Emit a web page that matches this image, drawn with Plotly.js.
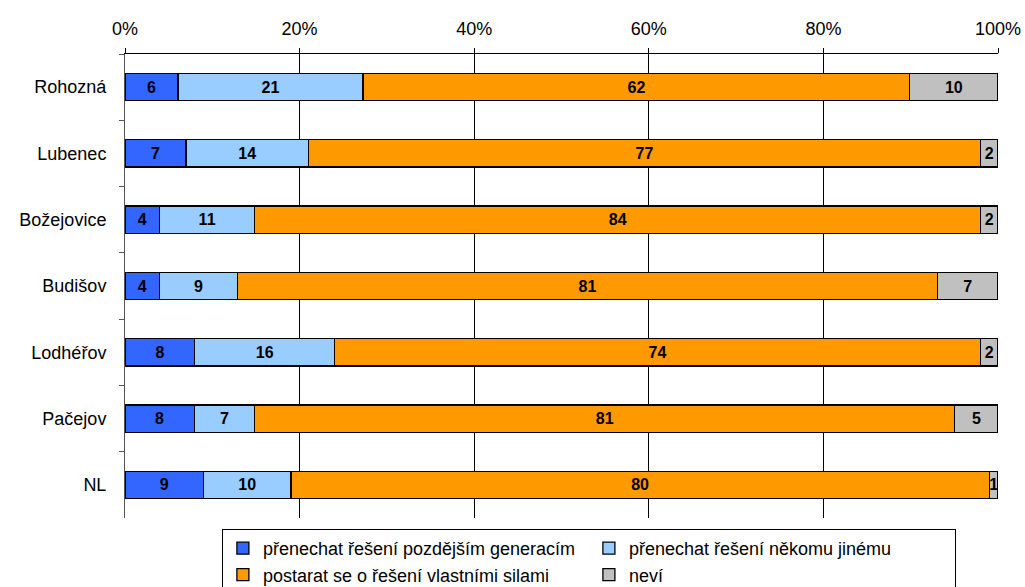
<!DOCTYPE html>
<html>
<head>
<meta charset="utf-8">
<script src="https://cdn.plot.ly/plotly-3.0.1.min.js"></script>
<style>
  body { margin: 0; background: #fff; }
  #plot { width: 1025px; height: 587px; }
</style>
</head>
<body>
<div id="plot"></div>
<script>
// obce (shora dolu)
var places = ["Rohozná", "Lubenec", "Božejovice", "Budišov", "Lodhéřov", "Pačejov", "NL"];

// odpovedi v %
var laterGen = [6, 7, 4, 4, 8, 8, 9];
var someoneElse = [21, 14, 11, 9, 16, 7, 10];
var ownForces = [62, 77, 84, 81, 74, 81, 80];
var dontKnow = [10, 2, 2, 7, 2, 5, 1];

var names = [
  "přenechat řešení pozdějším generacím",
  "přenechat řešení někomu jinému",
  "postarat se o řešení vlastními silami",
  "neví"
];
var colors = ["#3366FF", "#99CCFF", "#FF9900", "#C0C0C0"];
var series = [laterGen, someoneElse, ownForces, dontKnow];

var data = series.map(function (vals, i) {
  return {
    type: "bar",
    orientation: "h",
    y: places,
    x: vals,
    name: names[i],
    text: vals.map(String),
    textposition: "inside",
    insidetextanchor: "middle",
    textangle: 0,
    textfont: { family: "Liberation Sans, Arial, sans-serif", size: 16, color: "#000", weight: "bold" },
    marker: { color: colors[i], line: { color: "#000", width: 1.3 } },
    width: 0.41,
    hoverinfo: "x+y+name"
  };
});

var layout = {
  width: 1025,
  height: 587,
  barmode: "stack",
  barnorm: "percent",
  margin: { l: 125, r: 27, t: 54, b: 69, autoexpand: false },
  paper_bgcolor: "#fff",
  plot_bgcolor: "#fff",
  font: { family: "Liberation Sans, Arial, sans-serif", size: 18, color: "#000" },
  uniformtext: { minsize: 16, mode: "show" },
  xaxis: {
    side: "top",
    range: [0, 100],
    tickvals: [0, 20, 40, 60, 80, 100],
    ticktext: ["0%", "20%", "40%", "60%", "80%", "100%"],
    showgrid: true,
    gridcolor: "#000",
    gridwidth: 1,
    showline: true,
    linecolor: "#000",
    linewidth: 1,
    ticks: "outside",
    ticklen: 5,
    tickcolor: "#000",
    zeroline: false,
    tickfont: { size: 18 },
    ticklabelstandoff: 6
  },
  yaxis: {
    autorange: "reversed",
    showline: true,
    linecolor: "#555",
    linewidth: 1,
    ticks: "outside",
    tickson: "boundaries",
    ticklen: 5,
    tickcolor: "#555",
    showgrid: false,
    tickfont: { size: 18 },
    ticklabelstandoff: 14
  },
  showlegend: true,
  legend: {
    orientation: "h",
    x: 0.111,
    xanchor: "left",
    y: -0.0237,
    yanchor: "top",
    bordercolor: "#000",
    borderwidth: 1,
    entrywidth: 321,
    entrywidthmode: "pixels",
    traceorder: "normal",
    itemwidth: 30,
    font: { size: 18 },
    tracegroupgap: 0
  }
};

Plotly.newPlot("plot", data, layout, { displayModeBar: false });
</script>
</body>
</html>
